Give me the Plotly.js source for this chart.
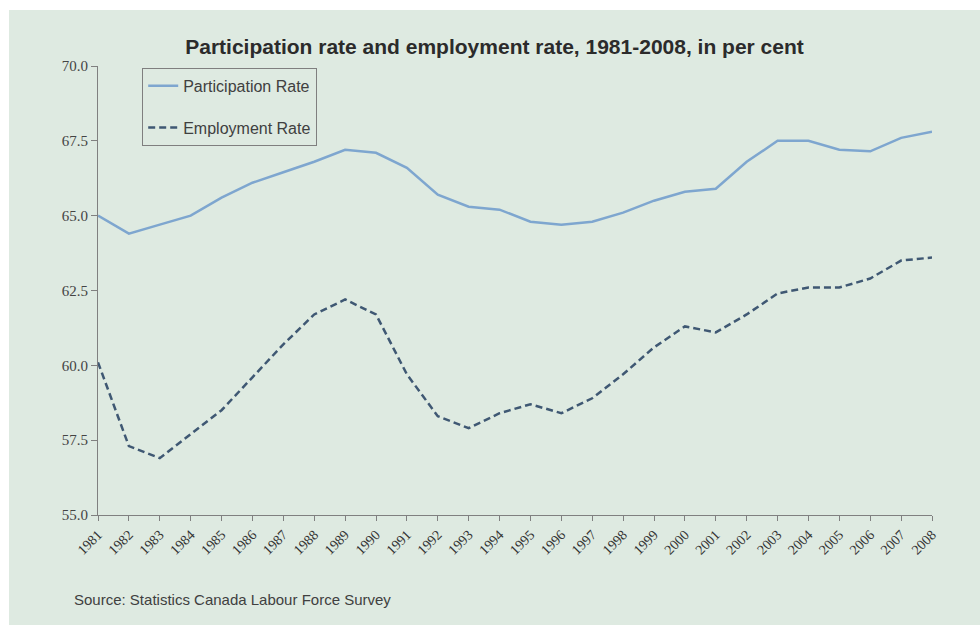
<!DOCTYPE html>
<html>
<head>
<meta charset="utf-8">
<script src="https://cdn.plot.ly/plotly-3.0.1.min.js"></script>
<style>
  html, body { margin: 0; padding: 0; background: #ffffff; width: 980px; height: 625px; overflow: hidden; }
  #chart { position: absolute; left: 9px; top: 10px; width: 971px; height: 615px; }
</style>
</head>
<body>
<div id="chart"></div>
<script>
const years = [1981,1982,1983,1984,1985,1986,1987,1988,1989,1990,1991,1992,1993,1994,1995,1996,1997,1998,1999,2000,2001,2002,2003,2004,2005,2006,2007,2008];
const participationRate = [65.0,64.4,64.7,65.0,65.6,66.1,66.45,66.8,67.2,67.1,66.6,65.7,65.3,65.2,64.8,64.7,64.8,65.1,65.5,65.8,65.9,66.8,67.5,67.5,67.2,67.15,67.6,67.8];
const employmentRate = [60.1,57.3,56.9,57.7,58.5,59.6,60.7,61.7,62.2,61.7,59.7,58.3,57.9,58.4,58.7,58.4,58.9,59.7,60.6,61.3,61.1,61.7,62.4,62.6,62.6,62.9,63.5,63.6];
const yTicks = [55.0,57.5,60.0,62.5,65.0,67.5,70.0];
const seriesNames = ["Participation Rate","Employment Rate"];
const titleText = "Participation rate and employment rate, 1981-2008, in per cent";
const sourceText = "Source: Statistics Canada Labour Force Survey";

const traces = [
  {
    x: years, y: participationRate, type: 'scatter', mode: 'lines',
    name: seriesNames[0], legendgroup: 'a',
    line: { color: '#7ea6cf', width: 2.5 }
  },
  {
    x: years, y: employmentRate, type: 'scatter', mode: 'lines',
    name: seriesNames[1], legendgroup: 'b',
    line: { color: '#3f5873', width: 2.5, dash: '7px,4px' }
  }
];

const layout = {
  width: 971, height: 615,
  paper_bgcolor: '#deeae1',
  plot_bgcolor: '#deeae1',
  margin: { l: 89, r: 48, t: 56, b: 110 },
  title: {
    text: '<b>' + titleText + '</b>',
    font: { family: 'Liberation Sans, Arial, sans-serif', size: 21, color: '#2b2b2b' },
    x: 0.5, xanchor: 'center', y: 0.94, yanchor: 'middle', yref: 'container'
  },
  showlegend: true,
  legend: {
    x: 0.053, y: 0.996, xanchor: 'left', yanchor: 'top',
    bgcolor: 'rgba(0,0,0,0)', bordercolor: '#7f7f7f', borderwidth: 1,
    font: { family: 'Liberation Sans, Arial, sans-serif', size: 16, color: '#404040' },
    tracegroupgap: 18,
    traceorder: 'grouped'
  },
  xaxis: {
    range: [1981, 2008], tickvals: years, ticktext: years.map(String),
    tickangle: -45, ticks: 'outside', ticklen: 5, tickcolor: '#808080',
    showline: true, linecolor: '#808080', linewidth: 1,
    showgrid: false, zeroline: false,
    tickfont: { family: 'Liberation Serif, Times New Roman, serif', size: 14, color: '#333333' }
  },
  yaxis: {
    range: [55, 70], tickvals: yTicks, ticktext: yTicks.map(v => v.toFixed(1)),
    ticks: 'outside', ticklen: 6, tickcolor: '#808080',
    showline: true, linecolor: '#808080', linewidth: 1,
    showgrid: false, zeroline: false,
    tickfont: { family: 'Liberation Serif, Times New Roman, serif', size: 15, color: '#444444' }
  },
  annotations: [{
    text: sourceText, xref: 'paper', yref: 'paper',
    x: -0.031, y: -0.189, xanchor: 'left', yanchor: 'middle', showarrow: false,
    font: { family: 'Liberation Sans, Arial, sans-serif', size: 15, color: '#404040' }
  }]
};

Plotly.newPlot('chart', traces, layout, { displayModeBar: false, staticPlot: true });
</script>
</body>
</html>
